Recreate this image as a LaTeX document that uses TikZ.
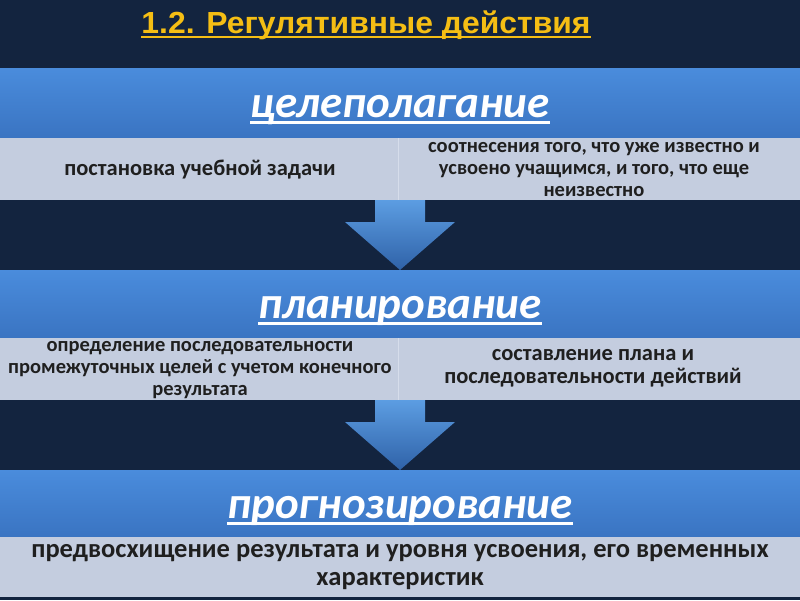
\documentclass[tikz,border=0pt]{standalone}
\usepackage{fontspec}
\setmainfont{Carlito}
\newfontfamily\titlefont{Liberation Sans}
\definecolor{bgnavy}{HTML}{13243F}
\definecolor{titleyellow}{HTML}{F5BE14}
\definecolor{bandtop}{HTML}{4A8CDC}
\definecolor{bandbot}{HTML}{3A74C2}
\definecolor{greyrow}{HTML}{C4CDDF}
\definecolor{divider}{HTML}{D6DDEB}
\definecolor{arrowtop}{HTML}{5C9DE2}
\definecolor{arrowbot}{HTML}{2F62A8}
\tikzset{
  band/.style={top color=bandtop, bottom color=bandbot, draw=none},
  greybox/.style={fill=greyrow, draw=none},
  headtext/.style={inner sep=0pt, anchor=base, text=white, font=\fontsize{45}{48}\selectfont\bfseries\itshape},
  celltext/.style={inner sep=0pt, align=center, text=black!88, font=\fontsize{22.5}{23}\selectfont\bfseries},
  smallcell/.style={celltext, font=\fontsize{20.5}{22}\selectfont\bfseries},
  blockarrow/.style={top color=arrowtop, bottom color=arrowbot, draw=none},
  uline/.style={line width=2.2pt},
}
\begin{document}
\begin{tikzpicture}[x=1pt,y=-1pt]
\useasboundingbox (0,0) rectangle (800,600);
\fill[bgnavy] (0,0) rectangle (800,600);
% title
\node[inner sep=0pt, anchor=base, text=titleyellow, font=\titlefont\fontsize{30.5}{34}\selectfont\bfseries] (title) at (366,33) {\scalebox{1.045}[1]{1.2. Регулятивные действия}};
\draw[titleyellow, line width=2pt] ([yshift=-4pt]title.base west) -- ([yshift=-4pt]title.base east);
% band 1
\path[band] (0,68) rectangle (800,138);
\node[headtext] (h1) at (400,117) {целеполагание};
\draw[white, uline] ([yshift=-5.5pt]h1.base west) -- ([yshift=-5.5pt]h1.base east);
\path[greybox] (0,138) rectangle (800,200);
\draw[divider, line width=0.6pt] (398,138) -- (398,200);
\node[celltext] (c1l) at (200,170) {постановка учебной задачи};
\node[smallcell] (c1r) at (594,170) {соотнесения того, что уже известно и\\усвоено учащимся, и того, что еще\\неизвестно};
% arrow 1
\path[blockarrow] (375,200) -- (425,200) -- (425,222) -- (455,222) -- (400,270) -- (345,222) -- (375,222) -- cycle;
% band 2
\path[band] (0,270) rectangle (800,338);
\node[headtext] (h2) at (400,318) {планирование};
\draw[white, uline] ([yshift=-5.5pt]h2.base west) -- ([yshift=-5.5pt]h2.base east);
\path[greybox] (0,338) rectangle (800,400);
\draw[divider, line width=0.6pt] (398,338) -- (398,400);
\node[smallcell] (c2l) at (200,370) {определение последовательности\\промежуточных целей с учетом конечного\\результата};
\node[celltext] (c2r) at (593,368) {составление плана и\\последовательности действий};
% arrow 2
\path[blockarrow] (375,400) -- (425,400) -- (425,422) -- (455,422) -- (400,470) -- (345,422) -- (375,422) -- cycle;
% band 3
\path[band] (0,470) rectangle (800,537);
\node[headtext] (h3) at (400,518) {прогнозирование};
\draw[white, uline] ([yshift=-5.5pt]h3.base west) -- ([yshift=-5.5pt]h3.base east);
\path[greybox] (0,537) rectangle (800,597);
\node[celltext, font=\fontsize{26.5}{28}\selectfont\bfseries] (c3) at (400,567) {предвосхищение результата и уровня усвоения, его временных\\характеристик};
\end{tikzpicture}
\end{document}
